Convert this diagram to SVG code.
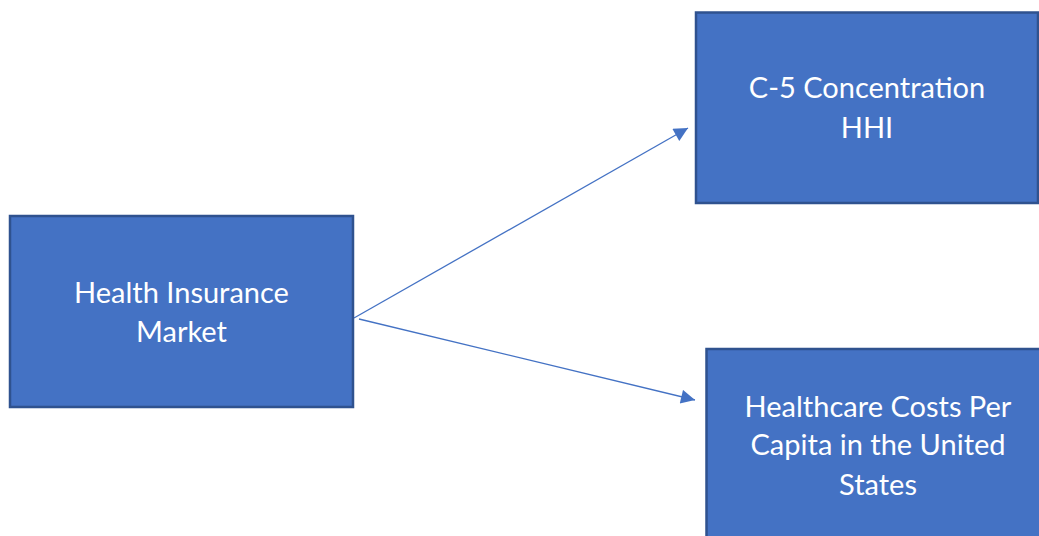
<svg xmlns="http://www.w3.org/2000/svg" width="1039" height="536" viewBox="0 0 1039 536">
<style>
.box{fill:#4472C4;stroke:#2F528F;stroke-width:2.5}
.lbl{fill:#FFFFFF;font-family:Lato,"Open Sans",sans-serif;font-size:29px;text-anchor:middle}
.conn{stroke:#4472C4;stroke-width:1.3;fill:none}
</style>
<defs>
<marker id="arr" viewBox="0 0 10 10" refX="10" refY="5" markerWidth="15" markerHeight="14" markerUnits="userSpaceOnUse" orient="auto">
<path d="M0,0 L10,5 L0,10 z" fill="#4472C4"/>
</marker>
</defs>
<rect width="1039" height="536" fill="#FFFFFF"/>
<g id="connectors">
<line class="conn" x1="354" y1="318" x2="688" y2="128" marker-end="url(#arr)"/>
<line class="conn" x1="359" y1="319" x2="695" y2="400" marker-end="url(#arr)"/>
</g>
<g id="node-health-insurance-market">
<rect class="box" x="10" y="216" width="343" height="191"/>
<text class="lbl" x="181.5" y="303">Health Insurance</text>
<text class="lbl" x="181.5" y="342">Market</text>
</g>
<g id="node-c5-concentration">
<rect class="box" x="696" y="12.5" width="342" height="190.5"/>
<text class="lbl" x="867" y="98">C-5 Concentration</text>
<text class="lbl" x="867" y="138">HHI</text>
</g>
<g id="node-healthcare-costs">
<rect class="box" x="706.5" y="349" width="345" height="200"/>
<text class="lbl" x="878" y="417">Healthcare Costs Per</text>
<text class="lbl" x="878" y="455">Capita in the United</text>
<text class="lbl" x="878" y="495">States</text>
</g>
</svg>
